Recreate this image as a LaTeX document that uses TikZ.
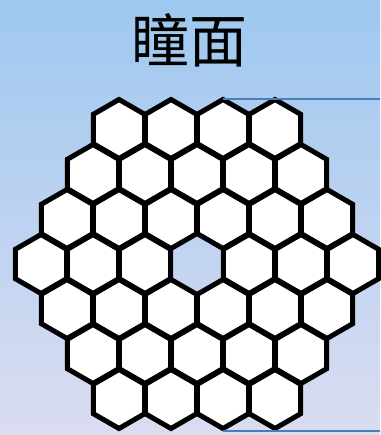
\documentclass[tikz,border=0pt]{standalone}
\usepackage{fontspec}
\newfontfamily\cjk{Noto Sans CJK SC}
\definecolor{bgtop}{RGB}{158,200,240}
\definecolor{bgbot}{RGB}{219,221,241}
\definecolor{lineblue}{RGB}{74,126,187}
\tikzset{
  hexseg/.style={draw=black, fill=white, line width=5pt, line join=miter},
  guideline/.style={draw=lineblue, line width=2.6pt},
  titletext/.style={font=\cjk\fontsize{58}{58}\selectfont, inner sep=0pt}
}
\begin{document}
\begin{tikzpicture}[x=1pt,y=-1pt]
  \useasboundingbox (0,0) rectangle (380,435);
  \shade[top color=bgtop, bottom color=bgbot] (0,0) rectangle (380,435);
  \node[titletext] (title) at (189,40) {瞳面};
  \foreach \r/\n in {0/4,1/5,2/6,3/7,4/6,5/5,6/4}{
    \pgfmathsetmacro{\yy}{129+45*\r}
    \pgfmathsetmacro{\xs}{197-(\n-1)*26}
    \pgfmathtruncatemacro{\nn}{\n-1}
    \foreach \k in {0,...,\nn}{
      \pgfmathsetmacro{\xx}{\xs+52*\k}
      \ifnum\r=3 \ifnum\k=3 \else
        \draw[hexseg] (\xx,\yy) +(90:29.5) -- +(150:29.5) -- +(210:29.5) -- +(270:29.5) -- +(330:29.5) -- +(30:29.5) -- cycle;
      \fi\else
        \draw[hexseg] (\xx,\yy) +(90:29.5) -- +(150:29.5) -- +(210:29.5) -- +(270:29.5) -- +(330:29.5) -- +(30:29.5) -- cycle;
      \fi
    }
  }
  \coordinate (topstart) at (223,99);
  \coordinate (topend) at (380,99);
  \coordinate (botstart) at (223,431);
  \coordinate (botend) at (380,431);
  \draw[guideline] (topstart) -- (topend);
  \draw[guideline] (botstart) -- (botend);
\end{tikzpicture}
\end{document}
